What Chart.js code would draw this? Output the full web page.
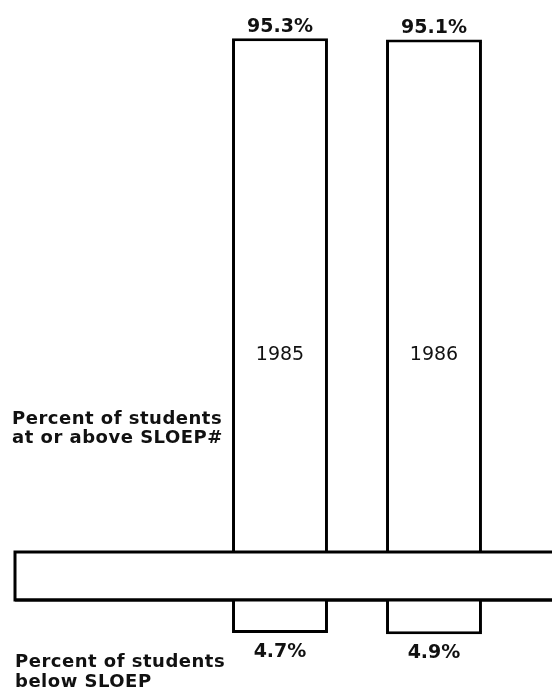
<!DOCTYPE html>
<html lang="en">
<head>
    <meta charset="UTF-8">
    <title>SLOEP results 1985-1986</title>
    <script src="https://cdn.jsdelivr.net/npm/chart.js"></script>
    <style>
        body {
            margin: 0;
            padding: 0;
            background: #fff;
        }

        .wrap {
            position: relative;
            width: 552px;
            height: 690px;
            overflow: hidden;
        }

        canvas {
            position: absolute;
            left: 0;
        }

        #aboveChart { top: 0; }
        #belowChart { top: 545px; }
    </style>
</head>
<body>
    <div class="wrap">
        <canvas id="aboveChart" width="552" height="560"></canvas>
        <canvas id="belowChart" width="552" height="145"></canvas>
    </div>

    <script>
        // Data
        const years = ['1985', '1986'];
        const atOrAbove = [95.3, 95.1];
        const below = [4.7, 4.9];

        const ink = '#000';
        const textInk = '#111';
        const boldFont = 'bold 19px "DejaVu Sans", Arial, sans-serif';
        const labelFont = 'bold 18px "DejaVu Sans", Arial, sans-serif';
        const yearFont = '19px "DejaVu Sans", Arial, sans-serif';

        // value labels, year labels and the left caption for the upper part
        const aboveLabels = {
            id: 'aboveLabels',
            afterDatasetsDraw(chart) {
                const ctx = chart.ctx;
                const y = chart.scales.y;
                const bars = chart.getDatasetMeta(0).data;
                ctx.save();
                ctx.fillStyle = textInk;
                ctx.textAlign = 'center';
                ctx.textBaseline = 'alphabetic';
                bars.forEach((bar, i) => {
                    ctx.font = boldFont;
                    ctx.fillText(atOrAbove[i].toFixed(1) + '%', bar.x, bar.y - 6);
                    ctx.font = yearFont;
                    ctx.fillText(years[i], bar.x, y.getPixelForValue(37) + 7);
                });
                ctx.font = labelFont;
                ctx.letterSpacing = '0.5px';
                ctx.textAlign = 'left';
                const base = chart.chartArea.bottom;
                ctx.fillText('Percent of students', 12, base - 128);
                ctx.fillText('at or above SLOEP#', 12, base - 109);
                ctx.restore();
            }
        };

        // the separating band, value labels and caption for the lower part
        const belowLabels = {
            id: 'belowLabels',
            beforeDatasetsDraw(chart) {
                const ctx = chart.ctx;
                const top = chart.chartArea.top;
                ctx.save();
                ctx.strokeStyle = ink;
                ctx.lineWidth = 3;
                ctx.strokeRect(15, top - 48, chart.width + 10, 48);
                ctx.restore();
            },
            afterDatasetsDraw(chart) {
                const ctx = chart.ctx;
                const bars = chart.getDatasetMeta(0).data;
                const top = chart.chartArea.top;
                ctx.save();
                ctx.strokeStyle = ink;
                ctx.lineWidth = 3;
                ctx.beginPath();
                ctx.moveTo(15, top);
                ctx.lineTo(chart.width + 5, top);
                ctx.stroke();
                ctx.fillStyle = textInk;
                ctx.font = boldFont;
                ctx.textAlign = 'center';
                bars.forEach((bar, i) => {
                    ctx.fillText(below[i].toFixed(1) + '%', bar.x, bar.y + 24);
                });
                ctx.font = labelFont;
                ctx.letterSpacing = '0.5px';
                ctx.textAlign = 'left';
                ctx.fillText('Percent of students', 15, top + 67);
                ctx.fillText('below SLOEP', 15, top + 87);
                ctx.restore();
            }
        };

        const sharedPadding = { left: 203, right: 41 };

        new Chart(document.getElementById('aboveChart'), {
            type: 'bar',
            data: {
                labels: years,
                datasets: [{
                    data: atOrAbove,
                    backgroundColor: '#fff',
                    borderColor: ink,
                    borderWidth: 3,
                    barPercentage: 0.623,
                    categoryPercentage: 1
                }]
            },
            options: {
                responsive: false,
                animation: false,
                devicePixelRatio: 1,
                layout: { padding: { top: 13, bottom: 8, ...sharedPadding } },
                plugins: { legend: { display: false }, tooltip: { enabled: false } },
                scales: {
                    x: { display: false },
                    y: { display: false, min: 0, max: 100 }
                }
            },
            plugins: [aboveLabels]
        });

        new Chart(document.getElementById('belowChart'), {
            type: 'bar',
            data: {
                labels: years,
                datasets: [{
                    data: below,
                    backgroundColor: '#fff',
                    borderColor: ink,
                    borderWidth: 3,
                    barPercentage: 0.623,
                    categoryPercentage: 1
                }]
            },
            options: {
                responsive: false,
                animation: false,
                devicePixelRatio: 1,
                layout: { padding: { top: 55, bottom: 20, ...sharedPadding } },
                plugins: { legend: { display: false }, tooltip: { enabled: false } },
                scales: {
                    x: { display: false },
                    y: { display: false, reverse: true, min: 0, max: 10 }
                }
            },
            plugins: [belowLabels]
        });
    </script>
</body>
</html>
